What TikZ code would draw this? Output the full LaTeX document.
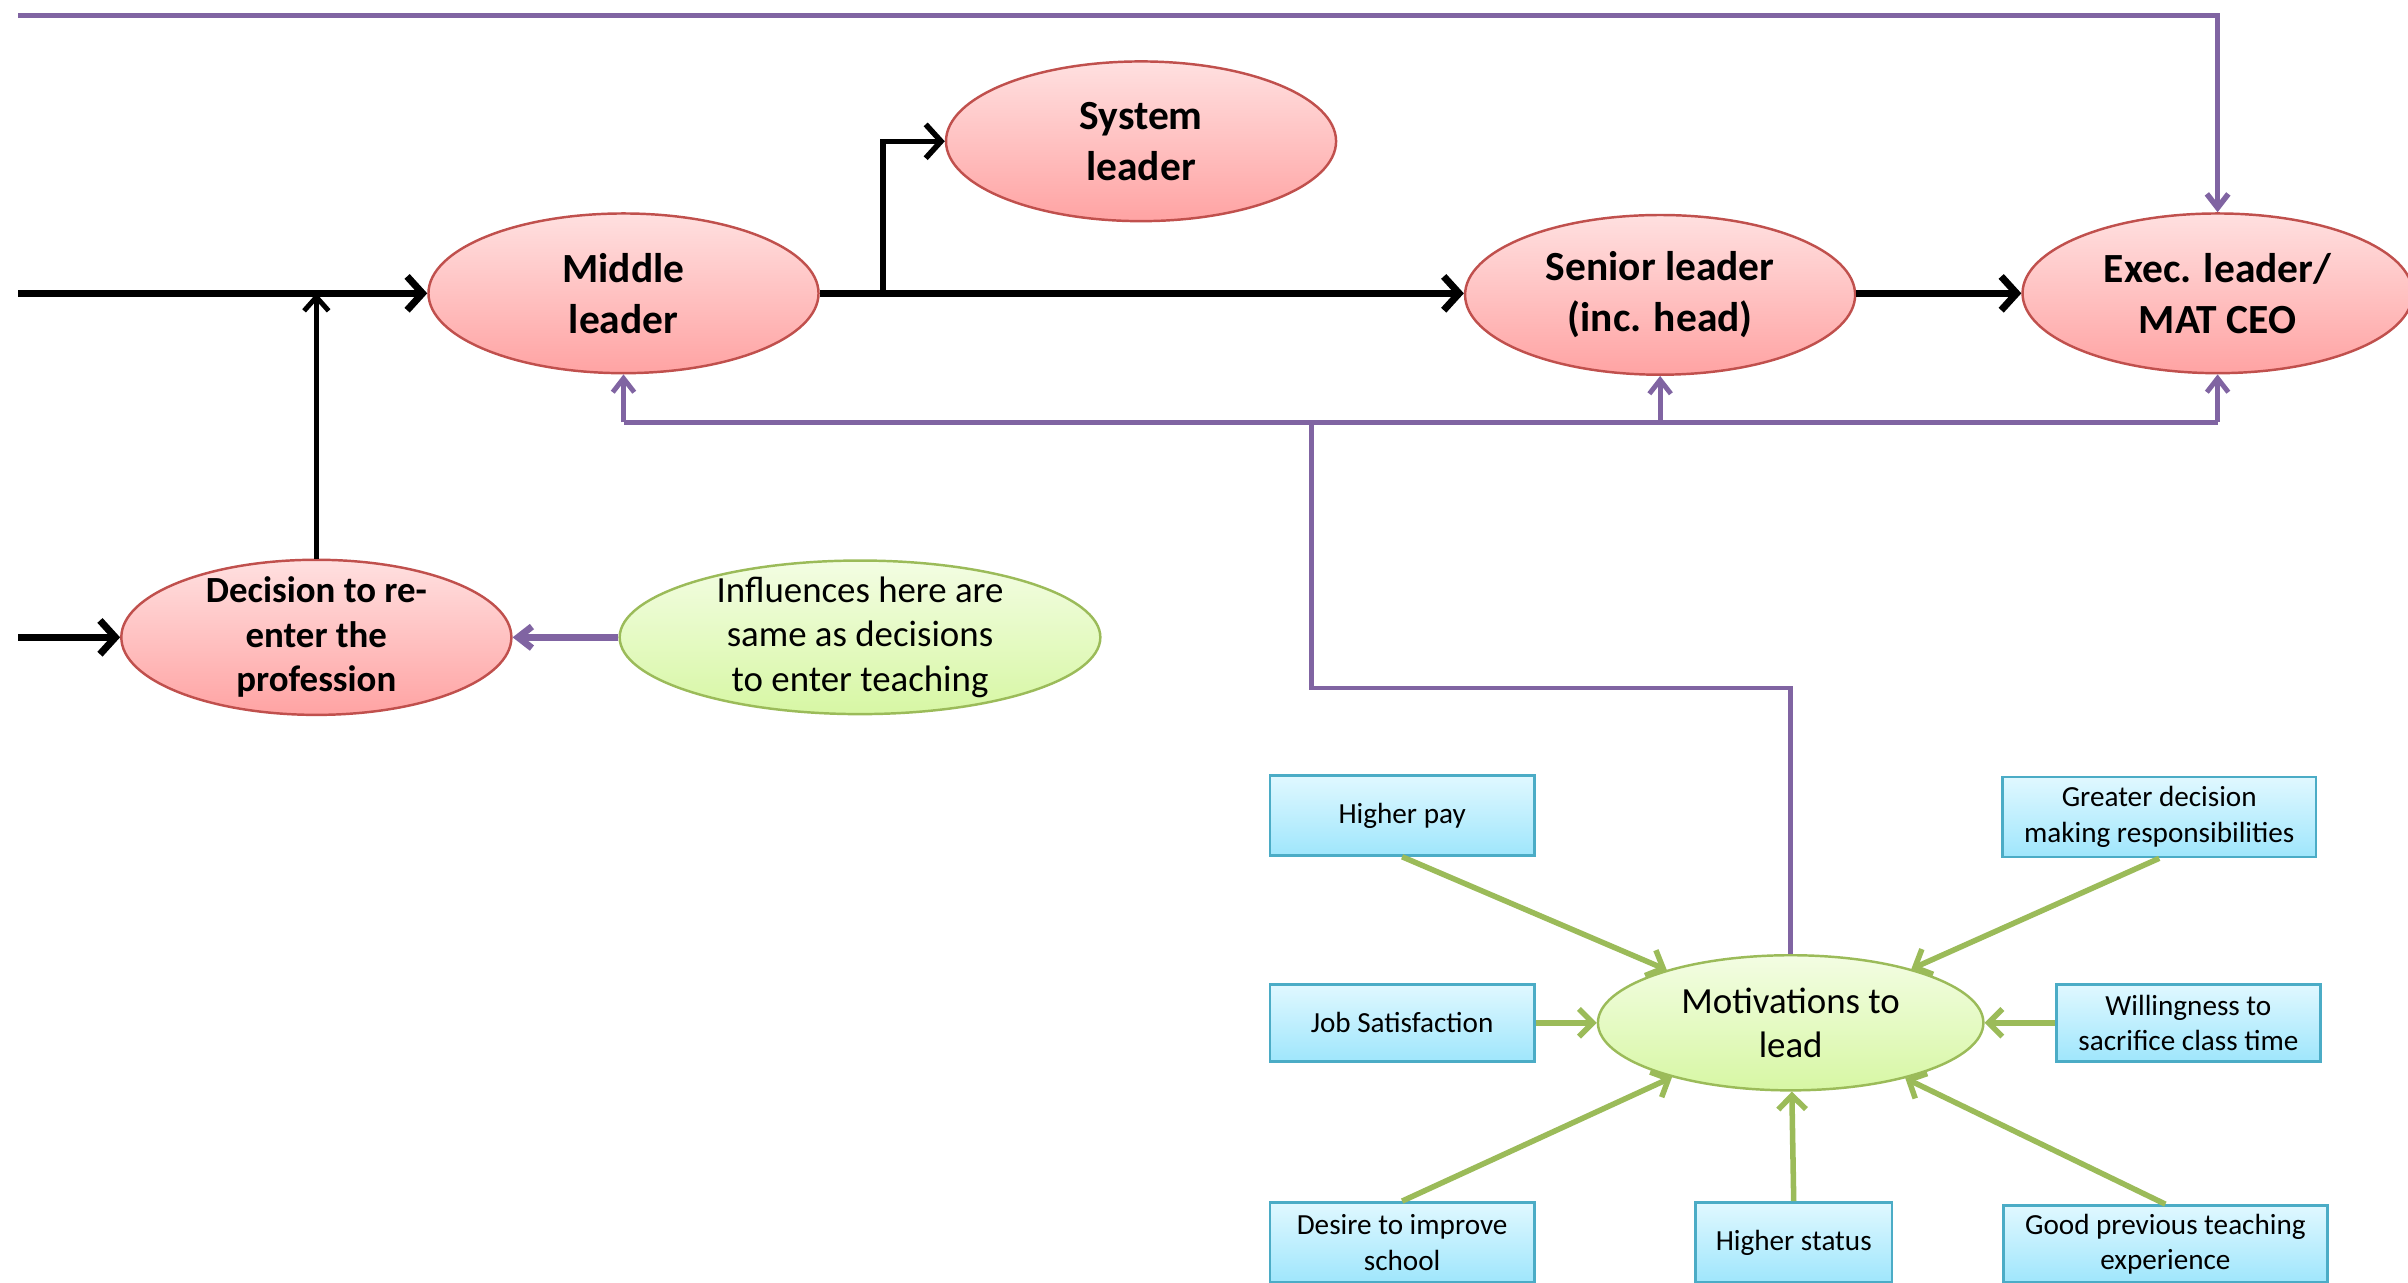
\documentclass[tikz,border=0pt]{standalone}
\usepackage{fontspec}
\setmainfont{Carlito}
\usetikzlibrary{shapes.geometric,arrows.meta}

\definecolor{redline}{HTML}{C0504D}
\definecolor{redtop}{HTML}{FFE0E0}
\definecolor{redbot}{HTML}{FFA3A3}
\definecolor{grnline}{HTML}{9BBB59}
\definecolor{grntop}{HTML}{F3FDE3}
\definecolor{grnbot}{HTML}{D7F7A4}
\definecolor{cyline}{HTML}{4BACC6}
\definecolor{cytop}{HTML}{E0F8FF}
\definecolor{cybot}{HTML}{9FE6FC}
\definecolor{purp}{HTML}{8064A2}

\tikzset{
  every picture/.style={line width=0.75pt},
  stage/.style={ellipse, draw=redline, line width=0.8pt, top color=redtop, bottom color=redbot,
    inner sep=0pt, minimum width=127pt, minimum height=52pt, align=center,
    font=\fontsize{13.5}{16.5}\selectfont\bfseries},
  influence/.style={ellipse, draw=grnline, line width=0.8pt, top color=grntop, bottom color=grnbot,
    inner sep=0pt, align=center, font=\fontsize{12}{14.5}\selectfont},
  motive/.style={rectangle, draw=cyline, line width=0.9pt, top color=cytop, bottom color=cybot,
    inner sep=0pt, minimum width=86pt, minimum height=26pt, align=center,
    font=\fontsize{9.5}{11.5}\selectfont},
  mainflow/.style={line width=2.3pt, -{Straight Barb[length=5pt,width=11pt]}},
  sideflow/.style={line width=1.6pt, -{Straight Barb[length=4.5pt,width=8pt]}},
  feedback/.style={purp, line width=1.6pt},
  feedarrow/.style={feedback, -{Straight Barb[length=4.5pt,width=7pt]}},
  pull/.style={grnline, line width=1.8pt, -{Straight Barb[length=4.5pt,width=9pt]}}
}

\begin{document}
\begin{tikzpicture}[x=0.5pt,y=0.5pt,yscale=-1,xscale=1]
\useasboundingbox (0,0) rectangle (1568,835);

% career stages
\node [stage] (mid) at (406,191) {Middle\\leader};
\node [stage] (sys) at (743,92) {System\\leader};
\node [stage] (sen) at (1081,192) {Senior leader\\(inc. head)};
\node [stage] (exe) at (1444,191) {Exec. leader/\\MAT CEO};
\node [stage, minimum height=50.5pt, inner ysep=-3pt, font=\fontsize{12}{14.5}\selectfont\bfseries] (dec) at (206,415) {Decision to re-\\enter the\\profession};

% influences
\node [influence, minimum width=156.5pt, minimum height=50pt, inner ysep=-3pt] (inf) at (560,415) {Influences here are\\same as decisions\\to enter teaching};
\node [influence, minimum width=125.5pt, minimum height=44pt] (mot) at (1166,666) {Motivations to\\lead};

\node [motive] (pay) at (913,531) {Higher pay};
\node [motive, minimum width=102pt] (dm) at (1406,532) {Greater decision\\making responsibilities};
\node [motive, minimum height=25pt] (js) at (913,666) {Job Satisfaction};
\node [motive, minimum height=25pt] (sac) at (1425,666) {Willingness to\\sacrifice class time};
\node [motive] (imp) at (913,809) {Desire to improve\\school};
\node [motive, minimum width=64pt] (st) at (1168,809) {Higher status};
\node [motive, minimum width=105.5pt, minimum height=25pt] (exp) at (1410,810) {Good previous teaching\\experience};

\coordinate (in1) at (12,191);
\coordinate (in2) at (12,415);
\coordinate (j1) at (206,191);
\coordinate (br) at (575,191);
\coordinate (tl) at (12,10);
\coordinate (bus) at (854,275);
\coordinate (turn) at (854,448);

% main route
\draw [mainflow] (in1) -- (mid.west);
\draw [mainflow] (mid.east) -- (sen.west |- mid.east);
\draw [mainflow] (sen.east |- exe.west) -- (exe.west);
\draw [mainflow] (in2) -- (dec.west);
\draw [sideflow] (dec.north) -- (j1);
\draw [mainflow, line width=1.8pt] (br) |- (sys.west);

% feedback lines
\draw [feedarrow, line width=1.8pt] (tl) -| (exe.north);
\draw [feedback] (mot.north) |- (turn) -- (bus);
\draw [feedback] (mid.south |- bus) -- (exe.south |- bus);
\draw [feedarrow] (mid.south |- bus) -- (mid.south);
\draw [feedarrow] (sen.south |- bus) -- (sen.south);
\draw [feedarrow] (exe.south |- bus) -- (exe.south);
\draw [feedarrow, line width=2.2pt] (inf.west) -- (dec.east);

\foreach \m/\a in {pay/south,dm/south,js/east,sac/west,imp/north,st/north,exp/north}
  \draw [pull] (\m.\a) -- (mot);

\end{tikzpicture}
\end{document}
